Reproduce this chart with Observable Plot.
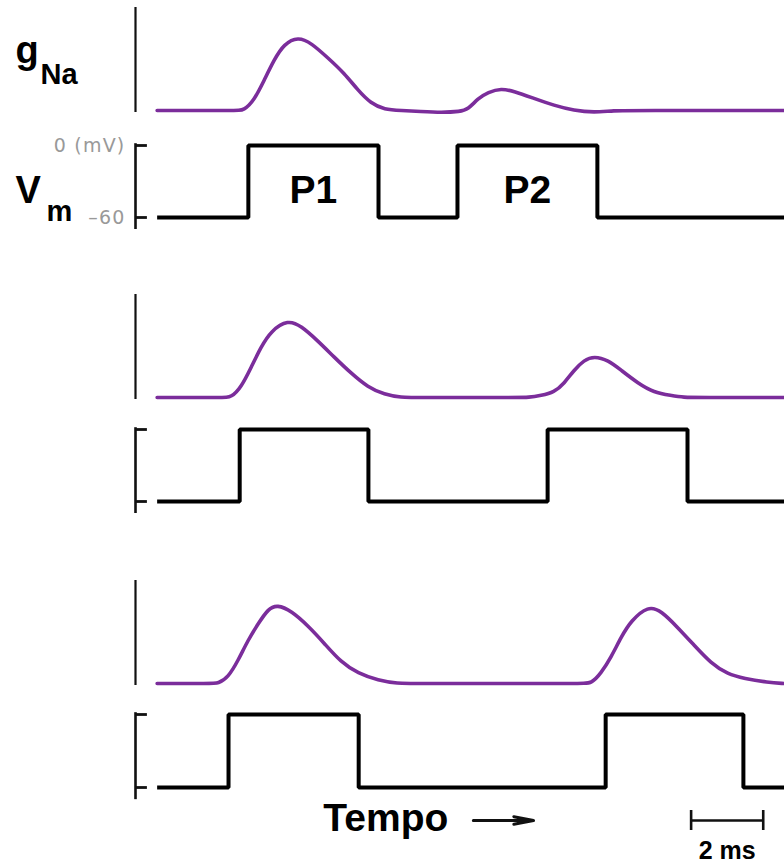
<!DOCTYPE html>
<html>
<head>
<meta charset="utf-8">
<script src="https://cdn.jsdelivr.net/npm/d3@7"></script>
<script src="https://cdn.jsdelivr.net/npm/@observablehq/plot@0.6"></script>
<style>
  body { margin: 0; background: #fff; }
  #fig { width: 784px; height: 864px; position: relative; overflow: hidden; background: #fff; }
  #fig svg { display: block; background: transparent; overflow: visible; }
  .vm1 g[aria-label="y-axis tick label"],
  .vm1 g[aria-label="y-axis tick label"] text { font-size: 19px; letter-spacing: 1.2px; font-family: 'DejaVu Sans', sans-serif; }
</style>
</head>
<body>
<div id="fig"></div>
<script>
// ---------- data ----------
// time axis (ms); axis bracket sits at the left end of the domain
const tDomain = [-0.6, 17.4];
const tEnd = 17.4;

// g_Na traces (normalized conductance) for the three protocols
const gTime1 = [0, 2.20, 2.40, 2.69, 2.97, 3.24, 3.52, 3.91, 4.27, 4.74, 5.19, 5.57, 5.93, 6.30, 6.77, 7.3, 7.9, 8.4, 8.62, 8.90, 9.18, 9.54, 9.90, 10.45, 11.01, 11.56, 12.12, 12.67, 13.2, 17.4];
const gVal1  = [0, 0,    0,    0.10, 0.30, 0.50, 0.66, 0.73, 0.67, 0.52, 0.37, 0.20, 0.07, 0.01, 0,    -0.01, -0.02, -0.01, 0.01, 0.12, 0.18, 0.22, 0.19, 0.12, 0.05, 0, -0.02, 0, 0, 0];
const gTime2 = [0, 1.85, 2.05, 2.33, 2.61, 2.88, 3.16, 3.63, 3.99, 4.46, 4.91, 5.38, 5.85, 6.30, 6.77, 7.2, 10.0, 10.3, 10.65, 11.01, 11.29, 11.56, 11.84, 12.12, 12.51, 12.87, 13.34, 13.78, 14.25, 14.61, 15.0, 17.4];
const gVal2  = [0, 0,    0,    0.10, 0.30, 0.50, 0.66, 0.77, 0.71, 0.56, 0.40, 0.24, 0.10, 0.03, 0,    0,   0,    0,    0.02,  0.05,  0.14,  0.27,  0.37,  0.41,  0.37,  0.27,  0.14,  0.05,  0.02,  0,     0,    0];
const gTime3 = [0, 1.50, 1.69, 1.97, 2.25, 2.52, 2.80, 3.08, 3.33, 3.72, 4.19, 4.63, 5.10, 5.57, 6.13, 6.68, 7.1, 11.8, 12.04, 12.31, 12.59, 12.87, 13.14, 13.62, 13.98, 14.45, 14.89, 15.36, 15.83, 16.28, 16.94, 17.4];
const gVal3  = [0, 0,    0,    0.06, 0.23, 0.43, 0.59, 0.74, 0.78, 0.72, 0.57, 0.40, 0.21, 0.10, 0.03, 0,    0,   0,    0,     0.10,  0.26,  0.46,  0.62,  0.77,  0.72,  0.55,  0.38,  0.20,  0.09,  0.05,  0.01,  0];
const gTimes = [gTime1, gTime2, gTime3];
const gVals = [gVal1, gVal2, gVal3];

// voltage-clamp protocols: pulse on/off times (ms)
const pulseStart = [[2.53, 8.33], [2.29, 10.83], [1.98, 12.44]];
const pulseEnd   = [[6.14, 12.21], [5.86, 14.71], [5.59, 16.26]];
const vRest = -60;
const vStep = 0;
const vTicks = [0, -60];
const vTickLabels = ["0 (mV)", "\u201360"];
const pulseNames = ["P1", "P2"];
const scaleBar = [14.81, 16.81]; // 2 ms

// ---------- style ----------
const PURPLE = "#7b2d9b";
const INK = "#111";
const BOLD = "'Liberation Sans', Arial, Helvetica, sans-serif";

function vmPoints(i) {
  const pts = [{t: 0, v: vRest}];
  pulseStart[i].forEach((s, k) => {
    pts.push({t: s, v: vStep});
    pts.push({t: pulseEnd[i][k], v: vRest});
  });
  pts.push({t: tEnd, v: vRest});
  return pts;
}

function gChart(i, height, mt, mb, extra = []) {
  const data = gTimes[i].map((t, k) => ({t, g: gVals[i][k]}));
  return Plot.plot({
    width: 784, height, marginLeft: 135, marginRight: 0, marginTop: mt, marginBottom: mb,
    x: {domain: tDomain, axis: null},
    y: {domain: [0, 1], axis: null},
    style: {background: "transparent", overflow: "visible"},
    marks: [
      Plot.ruleX([tDomain[0]], {y1: -0.02, y2: 1.02, stroke: INK, strokeWidth: 2.2}),
      Plot.line(data, {x: "t", y: "g", stroke: PURPLE, strokeWidth: 3.6, curve: "basis"}),
      ...extra
    ]
  });
}

function vChart(i, height, mt, mb, labels, extra = []) {
  const marks = [
    Plot.ruleX([tDomain[0]], {y1: -70, y2: 1.5, stroke: INK, strokeWidth: 2.6}),
    Plot.ruleY(vTicks, {x1: tDomain[0], x2: tDomain[0] + 0.33, stroke: INK, strokeWidth: 2.8}),
    Plot.line(vmPoints(i), {x: "t", y: "v", stroke: "#000", strokeWidth: 4, curve: "step-after", strokeLinejoin: "miter", strokeLinecap: "butt"}),
    ...extra
  ];
  if (labels) {
    marks.push(Plot.axisY({
      ticks: vTicks, tickFormat: d => vTickLabels[vTicks.indexOf(d)],
      tickSize: 0, tickPadding: 10, label: null, color: "#999",
      fontSize: 19, fontFamily: "'DejaVu Sans', sans-serif"
    }));
  }
  return Plot.plot({
    className: labels ? "vm1" : "vm",
    width: 784, height, marginLeft: 135, marginRight: 0, marginTop: mt, marginBottom: mb,
    x: {domain: tDomain, axis: null},
    y: labels ? {domain: [vRest, vStep]} : {domain: [vRest, vStep], axis: null},
    style: {background: "transparent", overflow: "visible"},
    marks
  });
}

const bigText = (s, y, dx, size) => Plot.text([s], {
  x: tDomain[0], y, text: d => d, dx, textAnchor: "start", lineAnchor: "bottom",
  fontSize: size, fontWeight: "bold", fontFamily: BOLD, fill: "#000"
});

const fig = document.getElementById("fig");

// panel 1
fig.append(gChart(0, 128, 9, 18, [
  bigText("g", 0.475, -120, 38),
  bigText("Na", 0.267, -95, 29)
]));
fig.append(vChart(0, 112, 17, 23, true, [
  Plot.text(pulseNames.map((n, k) => ({n, t: (pulseStart[0][k] + pulseEnd[0][k]) / 2})), {
    x: "t", y: -47.5, text: "n", lineAnchor: "bottom", fontSize: 39, fontWeight: "bold", fontFamily: BOLD, fill: "#000"
  }),
  bigText("V", -48.3, -120, 38),
  bigText("m", -63.3, -89, 29)
]));
// panel 2
fig.append(gChart(1, 170, 56, 13));
fig.append(vChart(1, 120, 19, 29, false));
// panel 3
fig.append(gChart(2, 170, 52, 17));
fig.append(vChart(2, 105, 14, 18, false));

// time annotation + scale bar
fig.append(Plot.plot({
  width: 784, height: 59, marginLeft: 135, marginRight: 0, marginTop: 0, marginBottom: 0,
  x: {domain: tDomain, axis: null},
  y: {domain: [0, 1], axis: null},
  style: {background: "transparent", overflow: "visible"},
  marks: [
    Plot.text(["Tempo"], {x: 4.61, y: 0.576, text: d => d, textAnchor: "start", lineAnchor: "bottom",
      fontSize: 39, fontWeight: "bold", fontFamily: BOLD, fill: "#000"}),
    Plot.arrow([0], {x1: 8.77, x2: 10.44, y1: 0.746, y2: 0.746, stroke: INK, strokeWidth: 3,
      headLength: 18, headAngle: 22}),
    Plot.ruleY([0.746], {x1: scaleBar[0], x2: scaleBar[1], stroke: INK, strokeWidth: 2.4}),
    Plot.ruleX(scaleBar, {y1: 0.576, y2: 0.915, stroke: INK, strokeWidth: 2.6}),
    Plot.text(["2 ms"], {x: (scaleBar[0] + scaleBar[1]) / 2, y: 0.09, text: d => d, lineAnchor: "bottom",
      fontSize: 25, fontWeight: "bold", fontFamily: BOLD, fill: "#000"})
  ]
}));
</script>
</body>
</html>
